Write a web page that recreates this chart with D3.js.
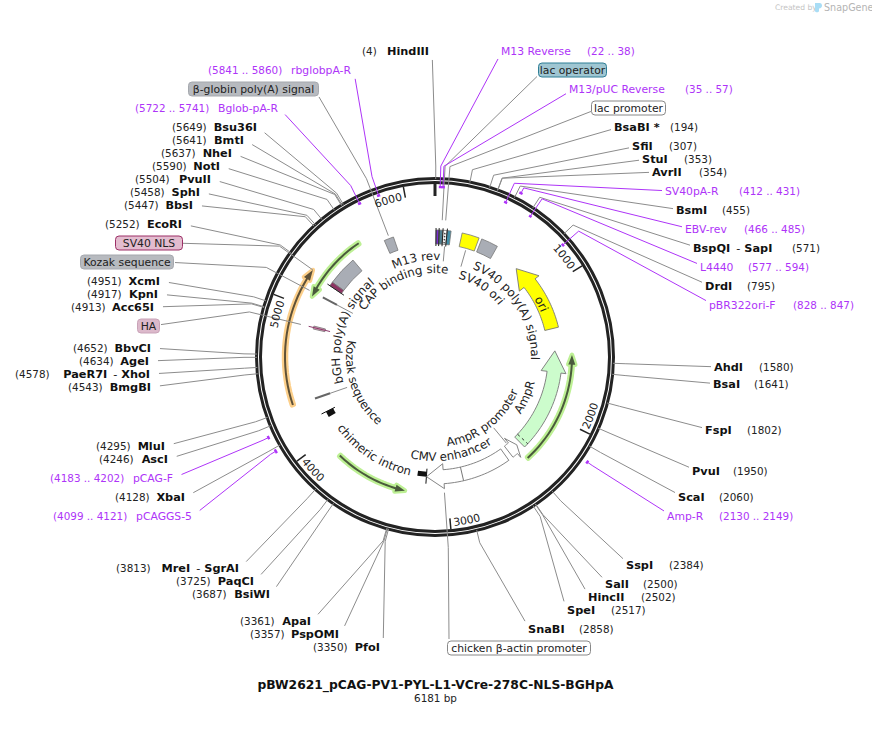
<!DOCTYPE html>
<html>
<head>
<meta charset="utf-8">
<script src="https://cdn.jsdelivr.net/npm/d3@7"></script>
<style>
body { margin: 0; background: #fff; }
text { font-family: "DejaVu Sans", Verdana, sans-serif; }
</style>
</head>
<body>
<svg id="map" width="872" height="737"></svg>
<script>
var totalBp = 6181;
var plasmidName = "pBW2621_pCAG-PV1-PYL-L1-VCre-278C-NLS-BGHpA";
var tickValues = [1000, 2000, 3000, 4000, 5000, 6000];

// restriction sites
var enzymeNames = ["HindIII", "BsaBI *", "SfiI", "StuI", "AvrII", "BsmI", "BspQI - SapI", "DrdI", "AhdI", "BsaI", "FspI", "PvuI", "ScaI",
    "SspI", "SalI", "HincII", "SpeI", "SnaBI", "PfoI", "PspOMI", "ApaI", "BsiWI", "PaqCI", "MreI - SgrAI", "XbaI", "AscI", "MluI",
    "BmgBI", "PaeR7I - XhoI", "AgeI", "BbvCI", "Acc65I", "KpnI", "XcmI", "EcoRI", "BbsI", "SphI", "PvuII", "NotI", "NheI", "BmtI", "Bsu36I"];
var enzymeSites = [4, 194, 307, 353, 354, 455, 571, 795, 1580, 1641, 1802, 1950, 2060,
    2384, 2500, 2502, 2517, 2858, 3350, 3357, 3361, 3687, 3725, 3813, 4128, 4246, 4295,
    4543, 4578, 4634, 4652, 4913, 4917, 4951, 5252, 5447, 5458, 5504, 5590, 5637, 5641, 5649];

// primers
var primerNames = ["M13 Reverse", "M13/pUC Reverse", "SV40pA-R", "EBV-rev", "L4440", "pBR322ori-F", "Amp-R", "pCAGGS-5", "pCAG-F", "Bglob-pA-R", "rbglobpA-R"];
var primerStarts = [22, 35, 412, 466, 577, 828, 2130, 4099, 4183, 5722, 5841];
var primerEnds = [38, 57, 431, 485, 594, 847, 2149, 4121, 4202, 5741, 5860];

// features that get a boxed label outside the ring
var boxNames = ["lac operator", "lac promoter", "chicken \u03b2-actin promoter", "HA", "Kozak sequence", "SV40 NLS", "\u03b2-globin poly(A) signal"];
var boxSites = [52, 77, 3022, 4870, 5116, 5245, 5820];

// plain blocks on the feature track
var blockNames = ["SV40 ori", "SV40 poly(A) signal", "bGH poly(A) signal", "SV40 NLS", "\u03b2-globin poly(A) signal", "M13 rev", "CAP binding site", "lac promoter", "lac operator"];
var blockStarts = [212, 371, 5255, 5222, 5777, 8, 32, 62, 95];
var blockEnds = [349, 505, 5490, 5255, 5853, 32, 62, 95, 125];

// directional features: tail, head base, tip
var arrowNames = ["ori", "AmpR", "AmpR promoter", "CMV enhancer"];
var arrowTails = [1312, 2320, 2440, 2480];
var arrowBases = [893, 1670, 2395, 3020];
var arrowTips = [731, 1495, 2353, 3160];

// thin translated features
var orfNames = ["PV1", "chimeric intron", "VCre", "PYL"];
var orfTails = [2360, 3846, 5600, 4315];
var orfTips = [1530, 3308, 5085, 5245];

// layout and style tables, kept apart from the values above
var cx = 435, cy = 357;
var enzymeLabelX = [429, 614, 632, 642, 652, 676, 693, 705, 714, 713, 705, 692, 678,
    626, 605, 588, 567, 528, 380, 339, 311, 270, 254, 239, 185, 168, 165,
    151, 150, 149, 151, 154, 158, 160, 182, 193, 200, 211, 220, 232, 244, 257];
var enzymeSiteX = [362, 670, 669, 684, 699, 722, 792, 747, 759, 754, 747, 733, 719,
    669, 643, 641, 611, 579, 313, 250, 240, 192, 176, 116, 115, 99, 96,
    68, 15, 79, 73, 71, 87, 87, 105, 124, 130, 135, 152, 161, 172, 172];
var enzymeY = [51, 127, 146, 159, 172, 210, 248, 286, 367, 384, 430, 471, 497,
    565, 584, 597, 610, 629, 647, 634, 621, 594, 581, 568, 497, 459, 446,
    387, 374, 361, 348, 307, 294, 281, 224, 205, 192, 179, 166, 153, 140, 127];
var enzymeLeft = [1, 0, 0, 0, 0, 0, 0, 0, 0, 0, 0, 0, 0,
    0, 0, 0, 0, 0, 1, 1, 1, 1, 1, 1, 1, 1, 1,
    1, 1, 1, 1, 1, 1, 1, 1, 1, 1, 1, 1, 1, 1, 1];

var primerLabelX = [501, 569, 665, 685, 700, 709, 667, 192, 173, 278, 351];
var primerRangeX = [587, 685, 739, 744, 748, 793, 719, 53, 50, 135, 208];
var primerY = [51, 89, 191, 229, 267, 305, 516, 516, 478, 108, 70];
var primerLeft = [0, 0, 0, 0, 0, 0, 0, 1, 1, 1, 1];
var primerRadius = [170, 170, 170, 185, 170, 170, 185, 185, 185, 171, 171];

var boxX0 = [538, 591, 447, 137, 80, 115, 188];
var boxX1 = [607, 666, 591, 160, 174, 183, 319];
var boxY = [70, 108, 648, 326, 262, 243, 89];
var boxLineX = [537, 591, 449, 161, 175, 183, 319];
var boxLineEnd = [137, 137, 136, 138, 142, 150, 130];
var boxFill = ["#9fc6d2", "#fff", "#fff", "#dcb9cb", "#b7babf", "#e3bccf", "#b7babf"];
var boxStroke = ["#2f7f96", "#888", "#888", "#c9a3b8", "#a5a8ae", "#9c2f66", "#a5a8ae"];

var blockFill = ["#ffff00", "#a9adb5", "#a9adb5", "#8d3463", "#a9adb5", "#7b2fd0", "#4e7f8f", "#fff", "#3f8fa8"];
var orfGlow = ["#bdf094", "#bdf094", "#bdf094", "#fccf8a"];
var orfLine = ["#4a5a3c", "#4a5a3c", "#4a5a3c", "#5e5138"];

// curved labels: text, start degree, end degree, baseline radius
var curvedText = ["M13 rev", "CAP binding site", "bGH poly(A) signal", "Kozak sequence", "chimeric intron", "CMV enhancer", "AmpR promoter", "AmpR", "SV40 poly(A) signal", "SV40 ori", "ori"];
var curvedFrom = [-25, -56, 256, 282, 234, 193.4, 171.7, 123, 22.6, 17.5, 53];
var curvedTo = [3, 8, 319, 219, 192, 147, 113, 105, 92, 50, 74];
var curvedR = [97, 84, 95, 89, 121, 104, 90, 103, 96, 82, 115];

var featureR0 = 113, featureR1 = 127;
var lineGray = "#8c8c8c", purple = "#ae34f8", ringColor = "#232323";

var svg = d3.select("#map");
var defs = svg.append("defs");
var angle = d3.scaleLinear().domain([0, totalBp]).range([0, 2 * Math.PI]);

function xy(bp, r) {
    var a = angle(bp);
    return [cx + r * Math.sin(a), cy - r * Math.cos(a)];
}

var plasmid = svg.append("g").attr("transform", "translate(" + cx + "," + cy + ")");
var radial = d3.lineRadial().angle(function (d) { return angle(d[0]); }).radius(function (d) { return d[1]; });
var polyline = d3.line();

function radialLine(g, bp, r0, r1, color, width) {
    return g.append("path").attr("d", radial([[bp, r0], [bp, r1]])).attr("stroke", color).attr("stroke-width", width).attr("fill", "none");
}

function block(g, start, end, r0, r1) {
    return g.append("path").attr("d", d3.arc()({ innerRadius: r0, outerRadius: r1, startAngle: angle(start), endAngle: angle(end) }));
}

function arrowShape(tail, base, tip, r0, r1, head0, head1) {
    var pts = [];
    d3.range(0, 21).forEach(function (i) { pts.push([tail + (base - tail) * i / 20, r0]); });
    pts.push([base, head0], [tip, (r0 + r1) / 2], [base, head1]);
    d3.range(20, -1, -1).forEach(function (i) { pts.push([tail + (base - tail) * i / 20, r1]); });
    return radial(pts) + "Z";
}

// connector from a label to its knee just outside the ring, then on to the mark
function connector(labelEdge, y, left, bp, rEnd, gapped) {
    var knee = xy(bp, 191);
    var dx = knee[0] - labelEdge, dy = knee[1] - y, len = Math.sqrt(dx * dx + dy * dy);
    var ux = dx / len, uy = dy / len;
    var gap = gapped ? (left ? 3 + 6 * Math.abs(ux) : -3) : 0;
    return polyline([[labelEdge + gap, y + 9 * uy], knee, xy(bp, rEnd)]);
}

var lines = svg.append("g").attr("fill", "none").attr("stroke", lineGray).attr("stroke-width", 1);

enzymeNames.forEach(function (name, i) {
    lines.append("path").attr("d", connector(enzymeLabelX[i], enzymeY[i], enzymeLeft[i], enzymeSites[i], 178, true));
});
boxNames.forEach(function (name, i) {
    lines.append("path").attr("d", connector(boxLineX[i], boxY[i], boxX0[i] < cx && i != 2, boxSites[i], boxLineEnd[i], false));
});

// short leader lines from inner labels to their features
radialLine(plasmid, 5116, 111, 93, lineGray, 1);
radialLine(plasmid, 4308, 111, 93, lineGray, 1);
radialLine(plasmid, 2410, 112, 92, lineGray, 1);
radialLine(plasmid, 275, 111, 94, lineGray, 1);
radialLine(plasmid, 85, 111, 96, lineGray, 1);

// feature track
var track = plasmid.append("g").attr("stroke", "#777").attr("stroke-width", 0.8);
blockNames.forEach(function (name, i) {
    block(track, blockStarts[i], blockEnds[i], featureR0, featureR1).attr("fill", blockFill[i]);
});
radialLine(plasmid, 5222, 110, 130, "#222", 1);
radialLine(plasmid, 8, 111, 129, "#222", 1);
radialLine(plasmid, 32, 111, 129, "#222", 1);
radialLine(plasmid, 62, 111, 129, "#222", 1);
radialLine(plasmid, 95, 111, 129, "#222", 1);
radialLine(plasmid, 78, 114, 126, "#444", 1.5).attr("stroke-dasharray", "1.5 1.5");

// HA and Kozak marks, small black markers
radialLine(plasmid, 4870, 108, 130, "#8b3a6a", 1);
block(track, 4858, 4882, 113, 125).attr("fill", "#d39bb5");
radialLine(plasmid, 5116, 111, 127, "#666", 2);
radialLine(plasmid, 4308, 111, 127, "#666", 2);
radialLine(plasmid, 4178, 112, 127, "#111", 1);
block(plasmid, 4130, 4178, 114, 122).attr("fill", "#111");
radialLine(plasmid, 3161, 112, 127, "#111", 1);
block(plasmid, 3161, 3236, 115, 120).attr("fill", "#111");

// big arrows
var arrowFill = ["#ffff00", "#ccfccc", "#fff", "#fff"];
arrowNames.forEach(function (name, i) {
    plasmid.append("path")
        .attr("d", arrowShape(arrowTails[i], arrowBases[i], arrowTips[i], featureR0, featureR1, 107, 132))
        .attr("fill", arrowFill[i]).attr("stroke", "#777").attr("stroke-width", 0.9);
});
radialLine(plasmid, 2867, featureR0, featureR1, "#777", 1);
radialLine(plasmid, 2285, featureR0, featureR1, "#333", 1).attr("stroke-dasharray", "3 3");

// thin orf arrows with a glow
orfNames.forEach(function (name, i) {
    var r = i == 3 ? 150 : 137;
    var dir = orfTips[i] > orfTails[i] ? -1 : 1;
    var d = arrowShape(orfTails[i], orfTips[i] + dir * 70, orfTips[i], r - 1, r + 1, r - 3.5, r + 3.5);
    plasmid.append("path").attr("d", d).attr("fill", orfGlow[i]).attr("stroke", orfGlow[i]).attr("stroke-width", 4.5).attr("stroke-linejoin", "round");
    plasmid.append("path").attr("d", d).attr("fill", orfLine[i]);
});

// ring
plasmid.append("circle").attr("r", 178.5).attr("fill", "none").attr("stroke", ringColor).attr("stroke-width", 3);
plasmid.append("circle").attr("r", 174.5).attr("fill", "none").attr("stroke", ringColor).attr("stroke-width", 3);
radialLine(plasmid, 0, 161, 173, ringColor, 3);

// ruler ticks and numbers
tickValues.forEach(function (t, i) {
    radialLine(plasmid, t, 162, 173, "#222", 1.5);
    var a = angle(t), backwards = t >= 2000 && t <= 4000;
    var p = d3.path(), id = "tick" + t;
    if (backwards) p.arc(0, 0, 170, a - 0.02 - Math.PI / 2, a - 1 - Math.PI / 2, true);
    else p.arc(0, 0, 160, a - 1 - Math.PI / 2, a - 0.02 - Math.PI / 2, false);
    defs.append("path").attr("id", id).attr("d", p.toString()).attr("transform", "translate(" + cx + "," + cy + ")");
    svg.append("text").attr("font-size", 10.8).attr("fill", "#222").attr("text-anchor", backwards ? "start" : "end")
        .append("textPath").attr("href", "#" + id).attr("startOffset", backwards ? "0%" : "100%").text(d3.format("d")(t));
});

// purple primer lines and their dashes
var primerLines = svg.append("g").attr("fill", "none").attr("stroke", purple).attr("stroke-width", 1);
primerNames.forEach(function (name, i) {
    var mid = (primerStarts[i] + primerEnds[i]) / 2;
    primerLines.append("path").attr("d", connector(primerLabelX[i], primerY[i], primerLeft[i], mid, primerRadius[i], true));
    var p = d3.path(), r = primerRadius[i];
    p.arc(cx, cy, r, angle(primerStarts[i]) - Math.PI / 2, angle(primerEnds[i]) - Math.PI / 2);
    primerLines.append("path").attr("d", p.toString()).attr("stroke-width", 2.4);
});

// curved labels, the path runs past both ends so a long text is never clipped
curvedText.forEach(function (label, i) {
    var ccw = curvedTo[i] < curvedFrom[i], pad = ccw ? -30 : 30;
    var rad = Math.PI / 180, p = d3.path(), id = "curve" + i;
    p.arc(0, 0, curvedR[i], (curvedFrom[i] - pad - 90) * rad, (curvedTo[i] + pad - 90) * rad, ccw);
    defs.append("path").attr("id", id).attr("d", p.toString()).attr("transform", "translate(" + cx + "," + cy + ")");
    svg.append("text").attr("font-size", 11.8).attr("fill", "#222").attr("text-anchor", "middle")
        .append("textPath").attr("href", "#" + id).attr("startOffset", "50%").text(label);
});

// enzyme labels
var labels = svg.append("g");
function boldName(y, x, anchor, name) {
    var t = labels.append("text").attr("x", x).attr("y", y + 4).attr("text-anchor", anchor)
        .attr("font-size", 11.3).attr("font-weight", "bold").attr("fill", "#111");
    var parts = name.split(" - ");
    t.append("tspan").text(parts[0]);
    if (parts.length > 1) {
        t.append("tspan").attr("dx", 6).attr("font-weight", "normal").text("-");
        t.append("tspan").attr("dx", 4).text(parts[1]);
    }
}
enzymeNames.forEach(function (name, i) {
    boldName(enzymeY[i], enzymeLabelX[i], enzymeLeft[i] ? "end" : "start", name);
    labels.append("text").attr("x", enzymeSiteX[i]).attr("y", enzymeY[i] + 4).attr("font-size", 10.4).attr("fill", "#222")
        .text("(" + enzymeSites[i] + ")");
});

primerNames.forEach(function (name, i) {
    labels.append("text").attr("x", primerLabelX[i]).attr("y", primerY[i] + 4).attr("text-anchor", primerLeft[i] ? "end" : "start")
        .attr("font-size", 10.8).attr("fill", purple).text(name);
    labels.append("text").attr("x", primerRangeX[i]).attr("y", primerY[i] + 4).attr("font-size", 10.4).attr("fill", purple)
        .text("(" + primerStarts[i] + " .. " + primerEnds[i] + ")");
});

boxNames.forEach(function (name, i) {
    labels.append("rect").attr("x", boxX0[i] + 0.5).attr("y", boxY[i] - 7).attr("width", boxX1[i] - boxX0[i] - 1).attr("height", 14).attr("rx", 3.5)
        .attr("fill", boxFill[i]).attr("stroke", boxStroke[i]);
    labels.append("text").attr("x", (boxX0[i] + boxX1[i]) / 2).attr("y", boxY[i] + 4).attr("text-anchor", "middle")
        .attr("font-size", 10.8).attr("fill", "#222").text(name);
});

// title
svg.append("text").attr("x", 435.5).attr("y", 689).attr("text-anchor", "middle").attr("font-size", 12.3).attr("font-weight", "bold").attr("fill", "#111").text(plasmidName);
svg.append("text").attr("x", 435.5).attr("y", 702).attr("text-anchor", "middle").attr("font-size", 10.4).attr("fill", "#222").text(totalBp + " bp");

// snapgene mark
svg.append("text").attr("x", 775).attr("y", 10).attr("font-size", 7.6).attr("fill", "#c4c4c4").text("Created by");
svg.append("text").attr("x", 824).attr("y", 11).attr("font-size", 9.6).attr("fill", "#b4b4b4").text("SnapGene");
svg.append("path").attr("d", "M815 3h5q2 0 2 2.5t-3 3v3l-2 1-2-1z").attr("fill", "#a9ddf5");
</script>
</body>
</html>
